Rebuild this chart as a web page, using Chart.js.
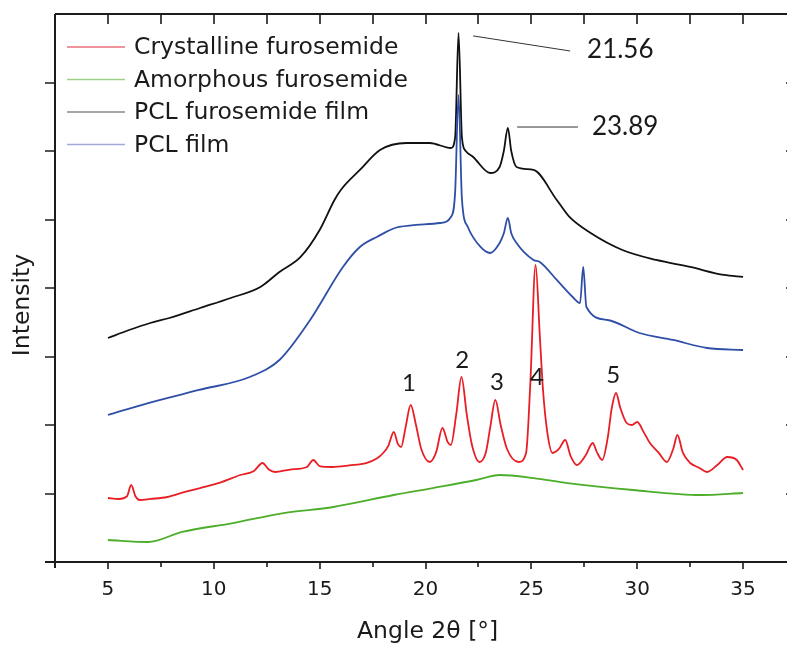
<!DOCTYPE html>
<html>
<head>
<meta charset="utf-8">
<script src="https://cdn.jsdelivr.net/npm/chart.js@4"></script>
<style>
  html, body { margin: 0; padding: 0; background: #fff; overflow: hidden; }
  #wrap { position: absolute; left: 0; top: 0; width: 810px; height: 646px; }
</style>
</head>
<body>
<div id="wrap"><canvas id="xrd" width="810" height="646"></canvas></div>
<script>
// Angle ticks (2 theta, degrees)
const majorTicks = [5, 10, 15, 20, 25, 30, 35];
const minorTicks = [2.5, 7.5, 12.5, 17.5, 22.5, 27.5, 32.5];
const intensityTicks = [1000, 2000, 3000, 4000, 5000, 6000, 7000];

// Crystalline furosemide (red)
const crystAngle = [5.0, 5.5, 5.9, 6.1, 6.3, 6.5, 7.0, 7.8, 8.6, 9.35, 10.3, 11.25, 11.9, 12.3, 12.6, 12.9, 13.6, 14.4, 14.7, 15.0,
  15.6, 16.4, 17.2, 17.7, 18.0, 18.25, 18.5, 18.7, 18.85, 19.05, 19.3, 19.55, 19.8, 20.2, 20.5, 20.8, 21.05, 21.2, 21.45, 21.7,
  21.95, 22.2, 22.55, 22.85, 23.05, 23.3, 23.55, 23.85, 24.4, 24.75, 24.95, 25.2, 25.4, 25.55, 25.75, 26.0, 26.3, 26.6, 26.85, 27.15,
  27.55, 27.9, 28.1, 28.35, 28.6, 28.8, 29.0, 29.2, 29.5, 29.75, 30.0, 30.3, 30.6, 31.0, 31.4, 31.7, 31.9, 32.15, 32.5, 32.9,
  33.3, 33.8, 34.25, 34.7, 35.0];
const crystIntensity = [934, 920, 960, 1124, 960, 905, 920, 949, 1020, 1080, 1160, 1270, 1330, 1445, 1350, 1314, 1350, 1387, 1489, 1400,
  1387, 1410, 1445, 1510, 1591, 1700, 1898, 1720, 1679, 1950, 2292, 2000, 1650, 1460, 1600, 1956, 1750, 1708, 2150, 2701,
  2150, 1700, 1460, 1600, 1950, 2365, 2000, 1650, 1460, 1591, 2600, 4336, 3300, 2511, 1900, 1591, 1650, 1781, 1550, 1416,
  1550, 1737, 1600, 1489, 1800, 2250, 2467, 2250, 2029, 2000, 2044, 1900, 1737, 1600, 1460, 1650, 1854, 1600, 1445, 1380,
  1314, 1420, 1533, 1489, 1343];

// Amorphous furosemide (green)
const amorphAngle = [5.0, 6.9, 8.5, 10.9, 13.3, 15.65, 18.5, 20.35, 22.4, 23.5, 25.1, 26.7, 29.8, 33.0, 35.0];
const amorphIntensity = [321, 292, 438, 569, 715, 803, 978, 1080, 1197, 1270, 1226, 1153, 1051, 978, 1007];

// PCL furosemide film (black)
const pclFuroAngle = [5.0, 6.0, 7.0, 7.9, 9.35, 10.8, 12.2, 13.1, 14.1, 15.0, 15.7, 16.0, 16.9, 17.85, 19.1, 20.2, 21.2, 21.4, 21.56, 21.72,
  21.9, 22.25, 23.05, 23.5, 23.7, 23.89, 24.05, 24.3, 25.1, 26.2, 26.8, 27.8, 29.3, 30.9, 32.5, 34.1, 35.0];
const pclFuroIntensity = [3270, 3387, 3489, 3562, 3708, 3854, 4015, 4234, 4453, 4847, 5285, 5431, 5723, 6015, 6117, 6117, 6044, 6200, 7723, 6200,
  6000, 5913, 5679, 5767, 6000, 6336, 6000, 5767, 5723, 5285, 5037, 4803, 4555, 4409, 4307, 4190, 4161];

// PCL film (blue)
const pclAngle = [5.0, 6.9, 9.3, 11.7, 13.1, 14.55, 16.1, 16.9, 17.7, 18.75, 20.7, 21.2, 21.4, 21.56, 21.72, 22.0, 22.6, 23.05, 23.5,
  23.7, 23.89, 24.05, 24.3, 25.1, 25.4, 26.2, 26.95, 27.3, 27.45, 27.6, 28.6, 30.1, 31.7, 33.3, 35.0];
const pclIntensity = [2146, 2321, 2511, 2701, 2949, 3533, 4307, 4599, 4745, 4891, 4949, 5037, 5400, 6818, 5300, 4891, 4599, 4511, 4657,
  4800, 5022, 4800, 4657, 4409, 4380, 4117, 3869, 3781, 4307, 3723, 3533, 3343, 3241, 3124, 3095];

// Text labels on the plot
const peakNames = ['1', '2', '3', '4', '5'];
const peakLabelAngle = [19.22, 21.73, 23.38, 25.27, 28.87];
const peakLabelIntensity = [2613, 2940, 2628, 2701, 2720];

const seriesNames = ['Crystalline furosemide', 'Amorphous furosemide', 'PCL furosemide film', 'PCL film'];
const seriesColors = ['#e81e25', '#4cae2a', '#111111', '#2f4ea6'];
const legendColors = ['#e8707c', '#9fd08a', '#8a8a8a', '#a3a9d6'];

function toPoints(xs, ys) {
  return xs.map((x, i) => ({ x: x, y: ys[i] }));
}

const AXIS = '#1c1c1c';

// Draws the frame, tick marks, legend, axis titles and annotations
const decorations = {
  id: 'decorations',
  afterDraw(chart) {
    const ctx = chart.ctx;
    const a = chart.chartArea;
    const xs = chart.scales.x;
    const ys = chart.scales.y;
    ctx.save();

    // frame
    ctx.strokeStyle = AXIS;
    ctx.lineWidth = 2;
    ctx.beginPath();
    ctx.moveTo(a.left - 10, a.bottom); ctx.lineTo(a.right, a.bottom);
    ctx.moveTo(a.left, a.top); ctx.lineTo(a.right, a.top);
    ctx.moveTo(a.left, a.top); ctx.lineTo(a.left, a.bottom + 6);
    ctx.moveTo(a.right, a.top); ctx.lineTo(a.right, a.bottom);
    ctx.stroke();

    // ticks
    ctx.lineWidth = 1.6;
    ctx.beginPath();
    majorTicks.concat(minorTicks).forEach(v => {
      const px = Math.round(xs.getPixelForValue(v));
      ctx.moveTo(px, a.top); ctx.lineTo(px, a.top + 10);
    });
    majorTicks.forEach(v => {
      const px = Math.round(xs.getPixelForValue(v));
      ctx.moveTo(px, a.bottom); ctx.lineTo(px, a.bottom + 7);
    });
    minorTicks.forEach(v => {
      const px = Math.round(xs.getPixelForValue(v));
      ctx.moveTo(px, a.bottom); ctx.lineTo(px, a.bottom + 5);
    });
    intensityTicks.forEach(v => {
      const py = Math.round(ys.getPixelForValue(v));
      ctx.moveTo(a.left - 10, py); ctx.lineTo(a.left, py);
      ctx.moveTo(a.right - 10, py); ctx.lineTo(a.right, py);
    });
    ctx.stroke();

    // legend
    ctx.font = '23.5px "DejaVu Sans"';
    ctx.textBaseline = 'middle';
    ctx.textAlign = 'left';
    seriesNames.forEach((name, i) => {
      const y = a.top + 33 + i * 32.5;
      ctx.strokeStyle = legendColors[i];
      ctx.lineWidth = 1.3;
      ctx.beginPath();
      ctx.moveTo(67, y); ctx.lineTo(125, y);
      ctx.stroke();
      ctx.fillStyle = '#1a1a1a';
      ctx.fillText(name, 134, y + 1);
    });

    // axis titles
    ctx.fillStyle = '#1a1a1a';
    ctx.textAlign = 'center';
    ctx.fillText('Angle 2\u03b8 [\u00b0]', xs.getPixelForValue(20.1), 632);
    ctx.save();
    ctx.translate(23, 305);
    ctx.rotate(-Math.PI / 2);
    ctx.fillText('Intensity', 0, 0);
    ctx.restore();

    // peak annotations
    ctx.strokeStyle = '#333';
    ctx.lineWidth = 1;
    ctx.beginPath();
    ctx.moveTo(xs.getPixelForValue(22.25), ys.getPixelForValue(7680));
    ctx.lineTo(xs.getPixelForValue(26.83), ys.getPixelForValue(7460));
    ctx.moveTo(xs.getPixelForValue(24.33), ys.getPixelForValue(6350));
    ctx.lineTo(xs.getPixelForValue(27.2), ys.getPixelForValue(6350));
    ctx.stroke();

    ctx.font = '26px Lato';
    ctx.fillStyle = '#1a1a1a';
    ctx.textAlign = 'center';
    ctx.fillText('21.56', xs.getPixelForValue(29.2), ys.getPixelForValue(7475));
    ctx.fillText('23.89', xs.getPixelForValue(29.43), ys.getPixelForValue(6350));

    ctx.font = '24px Lato';
    peakNames.forEach((t, i) => {
      ctx.fillText(t, xs.getPixelForValue(peakLabelAngle[i]), ys.getPixelForValue(peakLabelIntensity[i]));
    });

    ctx.restore();
  }
};

const lineStyle = (i) => ({
  borderColor: seriesColors[i],
  backgroundColor: seriesColors[i],
  borderWidth: 1.8,
  pointRadius: 0,
  fill: false,
  cubicInterpolationMode: 'monotone'
});

new Chart(document.getElementById('xrd'), {
  type: 'line',
  data: {
    datasets: [
      Object.assign({ label: seriesNames[3], data: toPoints(pclAngle, pclIntensity) }, lineStyle(3)),
      Object.assign({ label: seriesNames[2], data: toPoints(pclFuroAngle, pclFuroIntensity) }, lineStyle(2)),
      Object.assign({ label: seriesNames[1], data: toPoints(amorphAngle, amorphIntensity) }, lineStyle(1)),
      Object.assign({ label: seriesNames[0], data: toPoints(crystAngle, crystIntensity) }, lineStyle(0))
    ]
  },
  options: {
    responsive: false,
    animation: false,
    layout: { padding: { top: 14, right: 14, left: 0, bottom: 0 } },
    plugins: {
      legend: { display: false },
      tooltip: { enabled: false }
    },
    scales: {
      x: {
        type: 'linear',
        min: 2.5,
        max: 37.5,
        afterBuildTicks: (scale) => { scale.ticks = majorTicks.map(v => ({ value: v })); },
        afterFit: (scale) => { scale.height = 84; },
        grid: { display: false, drawTicks: false },
        border: { display: false },
        ticks: {
          color: '#1a1a1a',
          font: { family: 'DejaVu Sans', size: 20 },
          padding: 16,
          maxRotation: 0
        }
      },
      y: {
        min: 0,
        max: 8000,
        afterFit: (scale) => { scale.width = 55; },
        grid: { display: false, drawTicks: false },
        border: { display: false },
        ticks: { display: false, stepSize: 1000 }
      }
    }
  },
  plugins: [decorations]
});
</script>
</body>
</html>
